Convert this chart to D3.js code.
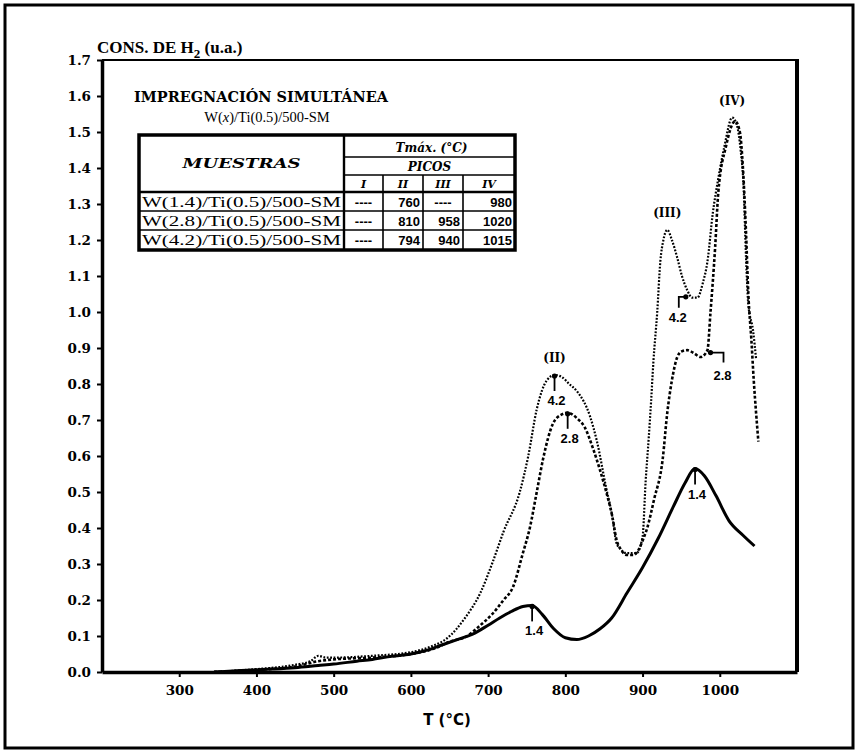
<!DOCTYPE html>
<html>
<head>
<meta charset="utf-8">
<script src="https://cdn.jsdelivr.net/npm/d3@7"></script>
<style>
  body { margin: 0; background: #fff; }
  svg { display: block; }
</style>
</head>
<body>
<svg id="chart" width="859" height="754"></svg>
<script>
// ---- TPR hydrogen consumption traces, W(x)/Ti(0.5)/500-SM ----
const tempW14 = [345, 380, 420, 450, 480, 500, 530, 550, 570, 600, 620, 640, 660, 680, 700, 715, 730, 745, 757, 770, 785, 800, 815, 830, 845, 860, 880, 900, 920, 940, 955, 968, 980, 995, 1012, 1030, 1045];
const consW14 = [0.0, 0.004, 0.008, 0.012, 0.018, 0.022, 0.03, 0.035, 0.042, 0.05, 0.06, 0.075, 0.09, 0.105, 0.13, 0.15, 0.168, 0.182, 0.185, 0.16, 0.12, 0.095, 0.09, 0.1, 0.12, 0.15, 0.22, 0.29, 0.37, 0.46, 0.525, 0.565, 0.545, 0.49, 0.42, 0.38, 0.35];

const tempW28 = [345, 400, 450, 480, 500, 550, 600, 630, 650, 673, 690, 705, 720, 732, 745, 754, 763, 771, 784, 795, 803, 815, 825, 836, 845, 853, 861, 866, 872, 880, 888, 895, 901, 906, 915, 926, 932, 938, 945, 950, 958, 967, 975, 984, 988, 994, 998, 1008, 1020, 1026, 1030, 1034, 1037, 1041, 1044, 1047, 1050];
const consW28 = [0.0, 0.006, 0.015, 0.03, 0.035, 0.04, 0.05, 0.065, 0.084, 0.1, 0.13, 0.16, 0.2, 0.235, 0.33, 0.4, 0.5, 0.59, 0.69, 0.715, 0.72, 0.705, 0.68, 0.62, 0.56, 0.5, 0.43, 0.37, 0.34, 0.325, 0.325, 0.34, 0.37, 0.4, 0.48, 0.59, 0.72, 0.81, 0.875, 0.89, 0.894, 0.885, 0.875, 0.894, 1.0, 1.18, 1.33, 1.46, 1.53, 1.5, 1.4, 1.22, 1.05, 0.92, 0.81, 0.72, 0.64];

const tempW42 = [345, 400, 450, 470, 480, 490, 500, 550, 600, 625, 647, 670, 690, 705, 720, 741, 752, 763, 776, 786, 795, 805, 815, 832, 841, 853, 861, 866, 872, 879, 892, 900, 904, 908, 911, 914, 919, 923, 927, 932, 938, 945, 951, 958, 964, 971, 978, 984, 991, 998, 1006, 1016, 1022, 1027, 1031, 1034, 1037, 1043, 1047];
const consW42 = [0.0, 0.008, 0.02, 0.03, 0.045, 0.04, 0.04, 0.045, 0.055, 0.07, 0.094, 0.15, 0.22, 0.3, 0.39, 0.5, 0.6, 0.73, 0.81, 0.825, 0.82, 0.8, 0.78, 0.71, 0.64, 0.51, 0.43, 0.36, 0.34, 0.33, 0.33, 0.375, 0.53, 0.65, 0.75, 0.86, 1.0, 1.14, 1.2, 1.228, 1.2, 1.15, 1.1, 1.06, 1.04, 1.04, 1.08, 1.14, 1.275, 1.37, 1.46, 1.54, 1.52, 1.45, 1.34, 1.15, 1.02, 0.95, 0.87];

const xTicks = [300, 400, 500, 600, 700, 800, 900, 1000];
const yTicks = [0, 0.1, 0.2, 0.3, 0.4, 0.5, 0.6, 0.7, 0.8, 0.9, 1.0, 1.1, 1.2, 1.3, 1.4, 1.5, 1.6, 1.7];

// summary table of peak maxima
const sampleNames = ["W(1.4)/Ti(0.5)/500-SM", "W(2.8)/Ti(0.5)/500-SM", "W(4.2)/Ti(0.5)/500-SM"];
const peakHeaders = ["I", "II", "III", "IV"];
const peaksI = ["----", "----", "----"];
const peaksII = ["760", "810", "794"];
const peaksIII = ["----", "958", "940"];
const peaksIV = ["980", "1020", "1015"];

// peak names and curve call-outs (data units)
const peakNames = ["(II)", "(III)", "(IV)"];
const peakNameT = [786, 932, 1016];
const peakNameV = [0.825, 1.228, 1.54];
const calloutText = ["4.2", "2.8", "1.4", "1.4", "4.2", "2.8"];
const calloutT = [786, 803, 757, 968, 956, 988];
const calloutV = [0.825, 0.72, 0.185, 0.565, 1.045, 0.89];
const calloutKind = ["down", "down", "down", "down", "left", "right"];

const svg = d3.select("#chart");
const x = d3.scaleLinear().domain([200, 1100]).range([102, 797]);
const y = d3.scaleLinear().domain([0, 1.7]).range([672, 60]);

// outer border of the figure
svg.append("rect")
  .attr("x", 5).attr("y", 5).attr("width", 848).attr("height", 743)
  .attr("fill", "none").attr("stroke", "#000").attr("stroke-width", 3);

// plot frame: top and right edges
svg.append("line")
  .attr("x1", x(200)).attr("x2", x(1100)).attr("y1", y(1.7)).attr("y2", y(1.7))
  .attr("stroke", "#000").attr("stroke-width", 2);
svg.append("line")
  .attr("x1", x(1100)).attr("x2", x(1100)).attr("y1", y(1.7) - 1).attr("y2", y(0))
  .attr("stroke", "#000").attr("stroke-width", 4);

// axes
const yAxis = svg.append("g")
  .attr("transform", `translate(${x(200)},0)`)
  .call(d3.axisLeft(y).tickValues(yTicks).tickFormat(d3.format(".1f"))
        .tickSize(5).tickSizeOuter(0).tickPadding(6));
const xAxis = svg.append("g")
  .attr("transform", `translate(0,${y(0)})`)
  .call(d3.axisBottom(x).tickValues(xTicks).tickFormat(d3.format("d"))
        .tickSize(5).tickSizeOuter(0).tickPadding(8));

[yAxis, xAxis].forEach(g => {
  g.select(".domain").attr("stroke", "#000").attr("stroke-width", 3.5);
  g.selectAll(".tick line").attr("stroke", "#000").attr("stroke-width", 2);
  g.selectAll(".tick text")
    .attr("fill", "#000")
    .style("font-family", '"DejaVu Serif", serif')
    .style("font-weight", "bold")
    .style("font-size", "13.5px");
});

// axis titles
const yTitle = svg.append("text")
  .attr("x", 97).attr("y", 53)
  .style("font-family", '"Liberation Serif", serif')
  .style("font-weight", "bold")
  .style("font-size", "17px");
yTitle.append("tspan").text("CONS. DE H");
yTitle.append("tspan").attr("dy", 5).style("font-size", "13px").text("2");
yTitle.append("tspan").attr("dy", -5).text(" (u.a.)");

svg.append("text")
  .attr("x", 447).attr("y", 725)
  .attr("text-anchor", "middle")
  .style("font-family", '"DejaVu Sans", sans-serif')
  .style("font-weight", "bold")
  .style("font-size", "15px")
  .text("T (°C)");

// curves
const line = d3.line()
  .x(d => x(d[0])).y(d => y(d[1]))
  .curve(d3.curveMonotoneX);

const series = [
  { t: tempW42, v: consW42, width: 2.2, dash: "1.8 1.6" },
  { t: tempW28, v: consW28, width: 2.6, dash: "3 2" },
  { t: tempW14, v: consW14, width: 3, dash: null }
];
series.forEach(s => {
  svg.append("path")
    .datum(d3.zip(s.t, s.v))
    .attr("d", line)
    .attr("fill", "none")
    .attr("stroke", "#000")
    .attr("stroke-width", s.width)
    .attr("stroke-linejoin", "round")
    .attr("stroke-dasharray", s.dash);
});

// peak names
peakNames.forEach((name, i) => {
  svg.append("text")
    .attr("x", x(peakNameT[i])).attr("y", y(peakNameV[i]) - 13)
    .attr("text-anchor", "middle")
    .style("font-family", '"DejaVu Serif", serif')
    .style("font-weight", "bold")
    .style("font-size", "12px")
    .text(name);
});

// call-outs marking each curve
calloutText.forEach((txt, i) => {
  const px = x(calloutT[i]), py = y(calloutV[i]);
  const g = svg.append("g");
  g.append("circle").attr("cx", px).attr("cy", py + 1).attr("r", 2.6).attr("fill", "#000");
  let pts, tx, ty;
  if (calloutKind[i] === "down") {
    pts = [[px, py], [px, py + 16]];
    tx = px + 2; ty = py + 30;
  } else if (calloutKind[i] === "left") {
    pts = [[px, py + 1], [px - 7, py + 1], [px - 7, py + 12]];
    tx = px - 8; ty = py + 26;
  } else {
    pts = [[px, py + 1], [px + 13, py + 1], [px + 13, py + 11]];
    tx = px + 12; ty = py + 28;
  }
  g.append("path").attr("d", d3.line()(pts))
    .attr("fill", "none").attr("stroke", "#000").attr("stroke-width", 1.8);
  g.append("text")
    .attr("x", tx).attr("y", ty)
    .attr("text-anchor", "middle")
    .style("font-family", '"Liberation Sans", sans-serif')
    .style("font-weight", "bold")
    .style("font-size", "13px")
    .text(txt);
});

// in-plot heading
svg.append("text")
  .attr("x", 134).attr("y", 102)
  .attr("textLength", 254).attr("lengthAdjust", "spacingAndGlyphs")
  .style("font-family", '"DejaVu Serif", serif')
  .style("font-weight", "bold")
  .style("font-size", "14px")
  .text("IMPREGNACIÓN SIMULTÁNEA");
const sub = svg.append("text")
  .attr("x", 267).attr("y", 122)
  .attr("text-anchor", "middle")
  .style("font-family", '"Liberation Serif", serif')
  .style("font-size", "14.5px");
sub.append("tspan").text("W(");
sub.append("tspan").style("font-style", "italic").text("x");
sub.append("tspan").text(")/Ti(0.5)/500-SM");

// table of peak temperatures
const colX = [139, 344, 383, 423, 463, 515];
const rowY = [135, 157, 175, 192, 211, 230, 250];
const tbl = svg.append("g");
const thin = 1.6;
tbl.append("rect")
  .attr("x", colX[0]).attr("y", rowY[0])
  .attr("width", colX[5] - colX[0]).attr("height", rowY[6] - rowY[0])
  .attr("fill", "#fff").attr("stroke", "#000").attr("stroke-width", 3.5);
const hl = (x1, x2, yy, w) => tbl.append("line").attr("x1", x1).attr("x2", x2)
  .attr("y1", yy).attr("y2", yy).attr("stroke", "#000").attr("stroke-width", w);
const vl = (xx, y1, y2, w) => tbl.append("line").attr("x1", xx).attr("x2", xx)
  .attr("y1", y1).attr("y2", y2).attr("stroke", "#000").attr("stroke-width", w);
hl(colX[1], colX[5], rowY[1], thin);
hl(colX[1], colX[5], rowY[2], thin);
hl(colX[0], colX[5], rowY[3], 2.4);
hl(colX[0], colX[5], rowY[4], thin);
hl(colX[0], colX[5], rowY[5], thin);
vl(colX[1], rowY[0], rowY[6], 2.4);
[2, 3, 4].forEach(c => vl(colX[c], rowY[2], rowY[6], thin));

const hdrStyle = s => s.style("font-family", '"DejaVu Serif", serif')
  .style("font-weight", "bold").style("font-style", "italic")
  .attr("text-anchor", "middle");
hdrStyle(tbl.append("text")).attr("x", (colX[0] + colX[1]) / 2).attr("y", 168)
  .style("font-size", "12px").attr("textLength", 118).attr("lengthAdjust", "spacingAndGlyphs")
  .text("MUESTRAS");
hdrStyle(tbl.append("text")).attr("x", (colX[1] + colX[5]) / 2 + 2).attr("y", 152)
  .style("font-size", "12px").text("Tmáx. (°C)");
hdrStyle(tbl.append("text")).attr("x", (colX[1] + colX[5]) / 2).attr("y", 171)
  .style("font-size", "12px").text("PICOS");
peakHeaders.forEach((h, c) => {
  hdrStyle(tbl.append("text")).attr("x", (colX[c + 1] + colX[c + 2]) / 2).attr("y", 188)
    .style("font-size", "11px").text(h);
});

const cols = [peaksI, peaksII, peaksIII, peaksIV];
sampleNames.forEach((name, r) => {
  const base = rowY[r + 3] + 15;
  tbl.append("text")
    .attr("x", colX[0] + 3).attr("y", base)
    .attr("textLength", 199).attr("lengthAdjust", "spacingAndGlyphs")
    .style("font-family", '"Liberation Serif", serif')
    .style("font-size", "15px")
    .text(name);
  cols.forEach((col, c) => {
    const isDash = col[r] === "----";
    tbl.append("text")
      .attr("x", isDash ? (colX[c + 1] + colX[c + 2]) / 2 : colX[c + 2] - 3)
      .attr("y", base)
      .attr("text-anchor", isDash ? "middle" : "end")
      .style("font-family", '"Liberation Sans", sans-serif')
      .style("font-weight", "bold")
      .style("font-size", "13px")
      .text(col[r]);
  });
});
</script>
</body>
</html>
